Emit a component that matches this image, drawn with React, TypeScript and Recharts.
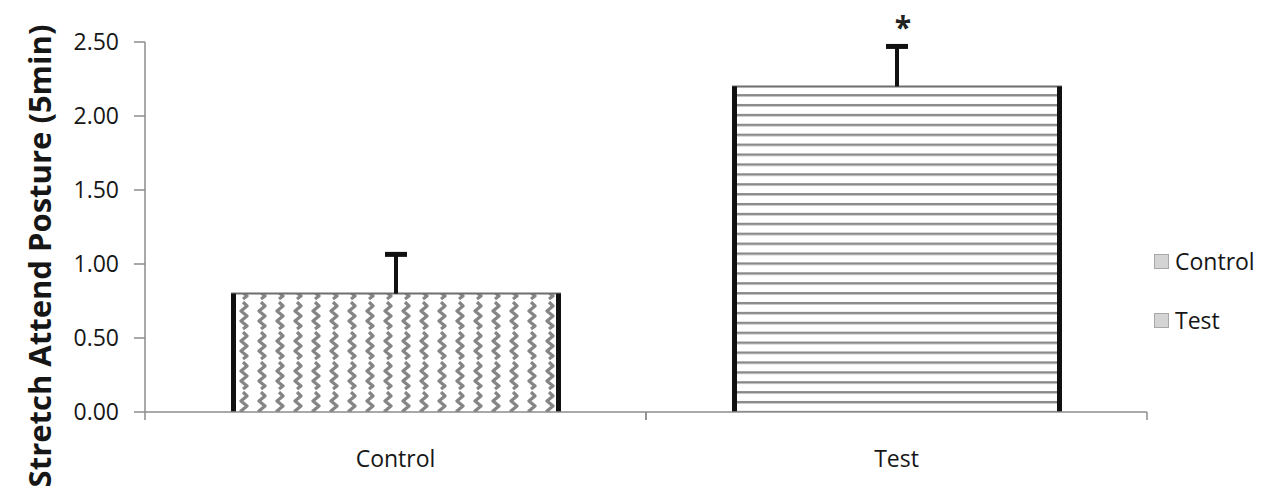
import { BarChart, Bar, XAxis, YAxis, Cell } from "recharts";

// ─── Data ────────────────────────────────────────────────────────────────────
const groups = ["Control", "Test"];
const means = [0.8, 2.2];
const sems = [0.265, 0.27];
const significant = [false, true];
const yTicks = [0, 0.5, 1, 1.5, 2, 2.5];

const patterns = ["zigzag", "hstripe"];

const data = groups.map((g, i) => ({
  group: g,
  mean: means[i],
  err: sems[i],
  sig: significant[i],
  pattern: patterns[i],
}));

const W = 1268;
const H = 494;
const FONT = "'Open Sans', 'Noto Sans', sans-serif";
const TXT = "#161616";

// bar with thick black sides, thin top edge, upper-only error bar
const BarShape = (props: any) => {
  const { x, y, width, height, payload } = props;
  if (!payload || !height) return null;
  const unit = height / payload.mean;
  const cx = x + width / 2;
  const errTop = y - payload.err * unit;
  return (
    <g>
      <rect x={x} y={y} width={width} height={height} fill={`url(#${payload.pattern})`} />
      <line x1={x} y1={y} x2={x + width} y2={y} stroke="#6e6e6e" strokeWidth={2} />
      <rect x={x} y={y} width={5} height={height} fill="#111" />
      <rect x={x + width - 5} y={y} width={5} height={height} fill="#111" />
      <line x1={cx} y1={y} x2={cx} y2={errTop} stroke="#111" strokeWidth={4} />
      <line x1={cx - 11} y1={errTop} x2={cx + 11} y2={errTop} stroke="#111" strokeWidth={5} />
      {payload.sig && (
        <text x={cx + 6} y={errTop - 8} textAnchor="middle" fontSize={30} fontWeight={700} fill="#222" fontFamily={FONT}>
          *
        </text>
      )}
    </g>
  );
};

// category tick: label plus short marks on band edges (Excel-style)
const XTick = (props: any) => {
  const { x, y, payload } = props;
  const half = payload?.offset ?? 250;
  return (
    <g>
      <line x1={x - half} y1={y} x2={x - half} y2={y + 8} stroke="#8c8c8c" strokeWidth={1.5} />
      <line x1={x + half} y1={y} x2={x + half} y2={y + 8} stroke="#8c8c8c" strokeWidth={1.5} />
      <text x={x} y={y + 55} textAnchor="middle" fontSize={23} fill={TXT} fontFamily={FONT}>
        {payload.value}
      </text>
    </g>
  );
};

const LegendBox = () => (
  <div
    style={{
      position: "absolute",
      left: 1153,
      top: 243,
      fontFamily: FONT,
      fontSize: 23,
      color: TXT,
    }}
  >
    {groups.map((g, i) => (
      <div key={g} style={{ display: "flex", alignItems: "center", height: 34, marginBottom: i === 0 ? 25 : 0 }}>
        <span
          style={{
            display: "inline-block",
            width: 13,
            height: 13,
            background: "#d4d4d4",
            border: "1px solid #a8a8a8",
            marginRight: 6,
          }}
        />
        {g}
      </div>
    ))}
  </div>
);

const YTitle = (props: any) => {
  const vb = props.viewBox || { y: 42, height: 371 };
  const cy = vb.y + vb.height / 2 + 29;
  return (
    <text
      x={38}
      y={cy}
      transform={`rotate(-90, 38, ${cy})`}
      textAnchor="middle"
      dominantBaseline="central"
      fontSize={31}
      fontWeight={700}
      fill={TXT}
      fontFamily={FONT}
    >
      Stretch Attend Posture (5min)
    </text>
  );
};

export default function App() {
  return (
    <div
      style={{
        margin: -8,
        position: "relative",
        width: W,
        height: H,
        background: "#fff",
        border: "1px solid #e4e4e4",
        boxSizing: "border-box",
      }}
    >
      <BarChart width={W - 2} height={H - 2} data={data} margin={{ top: 41, right: 120, left: 0, bottom: 0 }}>
        <defs>
          <pattern id="zigzag" width="18" height="30" patternUnits="userSpaceOnUse">
            <rect width="18" height="30" fill="#fff" />
            <path
              d="M8 1 L12 5 L6 10 L12 15 L6 20 L12 25 L8 28"
              fill="none"
              stroke="#858585"
              strokeWidth={3.2}
              strokeLinejoin="round"
            />
          </pattern>
          <pattern id="hstripe" width="10" height="9.9" patternUnits="userSpaceOnUse">
            <rect width="10" height="9.9" fill="#fff" />
            <rect y="4" width="10" height="2.4" fill="#888" />
          </pattern>
        </defs>

        <XAxis
          dataKey="group"
          height={81}
          axisLine={{ stroke: "#8c8c8c", strokeWidth: 1.5 }}
          tickLine={false}
          tickSize={0}
          tickMargin={0}
          tick={<XTick />}
          interval={0}
        />
        <YAxis
          width={144}
          domain={[0, 2.5]}
          ticks={yTicks}
          interval={0}
          tickFormatter={(v: number) => v.toFixed(2)}
          axisLine={{ stroke: "#8c8c8c", strokeWidth: 1.5 }}
          tickLine={{ stroke: "#8c8c8c", strokeWidth: 1.5 }}
          tickSize={11}
          tickMargin={15}
          tick={{ fontSize: 23, fill: TXT, fontFamily: FONT }}
          label={<YTitle />}
        />
        <Bar dataKey="mean" barSize={330} shape={<BarShape />} isAnimationActive={false}>
          {data.map((d) => (
            <Cell key={d.group} fill={`url(#${d.pattern})`} />
          ))}
        </Bar>
      </BarChart>
      <LegendBox />
    </div>
  );
}
